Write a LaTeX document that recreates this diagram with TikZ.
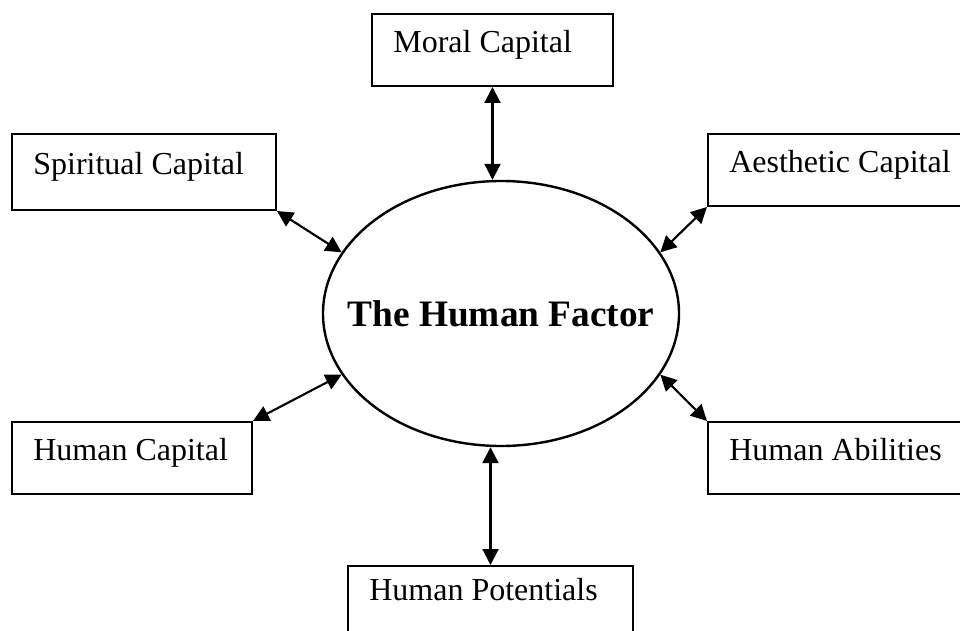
\documentclass[tikz,border=0pt]{standalone}
\usepackage{fontspec}
\setmainfont{Liberation Serif}
\usetikzlibrary{arrows.meta, shapes.geometric}

\begin{document}
\begin{tikzpicture}[x=0.75pt, y=-0.75pt,
        capbox/.style={draw, line width=1.5pt, rectangle, anchor=north west, inner xsep=16pt, align=flush left,
            minimum height=54pt, text height=0.7em, text depth=0.39em, font=\fontsize{24}{28}\selectfont},
        hub/.style={draw, line width=1.8pt, ellipse, inner sep=0pt, minimum width=267pt, minimum height=198.75pt},
        link/.style={line width=1.6pt, {Triangle[length=12pt,width=12pt]}-{Triangle[length=12pt,width=12pt]}}]
    \useasboundingbox (0,0) rectangle (960,631);
    \node[hub, label={[font=\fontsize{28}{32}\selectfont\bfseries]center:The Human Factor}] (factor) at (501,313.5) {};
    \node[capbox, text width=148.75pt] (moral) at (371,13) {Moral Capital};
    \node[capbox, text width=166pt, minimum height=57pt] (spiritual) at (11,133) {Spiritual Capital};
    \node[capbox, text width=170pt] (aesthetic) at (707,133) {Aesthetic Capital};
    \node[capbox, text width=148pt] (humancap) at (11,421) {Human Capital};
    \node[capbox, text width=170pt] (abilities) at (707,421) {Human Abilities};
    \node[capbox, text width=181.75pt, text depth=0.96em] (potentials) at (347,565) {Human Potentials};
    \draw[link] (moral.south) -- (moral.south |- factor.north);
    \draw[link] (spiritual.south east) -- (factor.159);
    \draw[link] (aesthetic.south west) -- (factor.21);
    \draw[link] (humancap.north east) -- (factor.201);
    \draw[link] (abilities.north west) -- (factor.-21);
    \draw[link] (potentials.north) -- (potentials.north |- factor.south);
\end{tikzpicture}
\end{document}
